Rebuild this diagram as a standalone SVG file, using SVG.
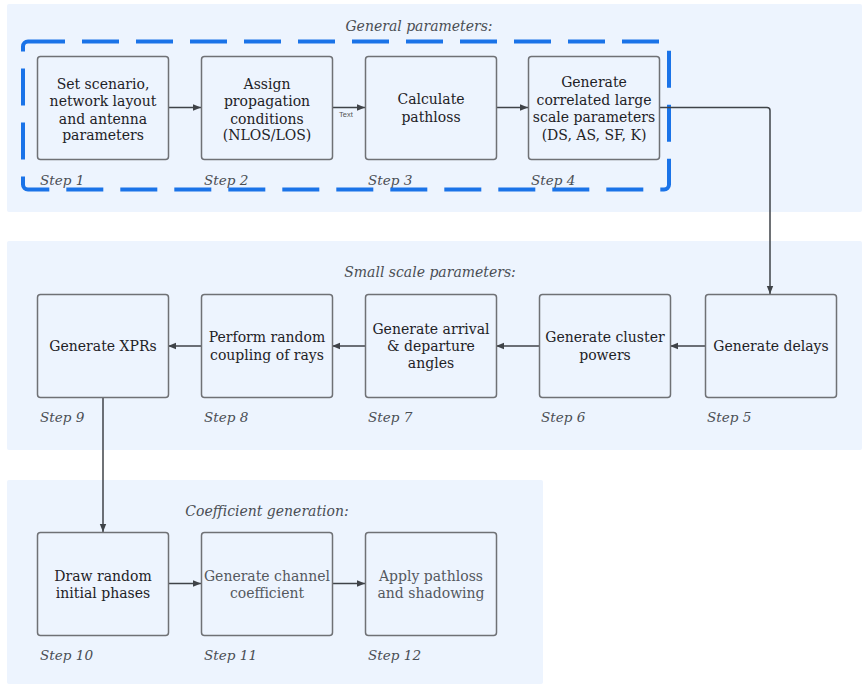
<svg xmlns="http://www.w3.org/2000/svg" width="863" height="685" viewBox="0 0 863 685">
  <defs>
    <marker id="arrow" viewBox="0 0 10 10" refX="10" refY="5" markerWidth="8" markerHeight="8" markerUnits="userSpaceOnUse" orient="auto">
      <path d="M0,1 L10,5 L0,9 Z" fill="#3f4348"/>
    </marker>
    <style>
      .panel { fill: #edf4fe; }
      .box { fill: #edf4fe; stroke: #6f7175; stroke-width: 1.5; }
      .lbl { font-family: "DejaVu Serif", "Liberation Serif", serif; font-size: 14px; fill: #1e2226; text-anchor: middle; }
      .lbl.dim { fill: #55595e; }
      .step { font-family: "DejaVu Serif", "Liberation Serif", serif; font-style: italic; font-size: 13.6px; fill: #4a4e54; }
      .title { font-family: "DejaVu Serif", "Liberation Serif", serif; font-style: italic; font-size: 14px; fill: #4a4e54; text-anchor: middle; }
      .conn { fill: none; stroke: #3f4348; stroke-width: 1.5; marker-end: url(#arrow); }
      .tag { font-family: "Liberation Sans", Arial, sans-serif; font-size: 7.5px; fill: #555; }
    </style>
  </defs>

  <!-- section backgrounds -->
  <g id="section-general">
    <rect class="panel" x="7" y="4" width="855" height="208" rx="2"/>
    <text class="title" x="419" y="31">General parameters:</text>
    <rect x="23" y="41.5" width="646" height="148" rx="5" fill="none" stroke="#1a73e8" stroke-width="4" stroke-dasharray="37 17"/>
  </g>
  <g id="section-small-scale">
    <rect class="panel" x="7" y="241" width="855" height="209" rx="2"/>
    <text class="title" x="430" y="277">Small scale parameters:</text>
  </g>
  <g id="section-coefficient">
    <rect class="panel" x="7" y="480" width="536" height="204" rx="2"/>
    <text class="title" x="267" y="516">Coefficient generation:</text>
  </g>

  <!-- connectors -->
  <g id="connectors">
    <line class="conn" x1="168" y1="107.5" x2="201" y2="107.5"/>
    <line class="conn" x1="332" y1="107.5" x2="365" y2="107.5"/>
    <text class="tag" x="339" y="117">Text</text>
    <line class="conn" x1="496" y1="107.5" x2="528" y2="107.5"/>
    <path class="conn" d="M660,107.5 H767 Q770,107.5 770,110.5 V294"/>
    <line class="conn" x1="705" y1="346" x2="670" y2="346"/>
    <line class="conn" x1="539" y1="346" x2="496" y2="346"/>
    <line class="conn" x1="365" y1="346" x2="332" y2="346"/>
    <line class="conn" x1="201" y1="346" x2="168" y2="346"/>
    <line class="conn" x1="103" y1="397" x2="103" y2="532"/>
    <line class="conn" x1="168" y1="583.5" x2="201" y2="583.5"/>
    <line class="conn" x1="332" y1="583.5" x2="365" y2="583.5"/>
  </g>

  <!-- steps 1-4 -->
  <g id="step1">
    <rect class="box" x="37.5" y="56.5" width="131" height="103" rx="3"/>
    <text class="lbl" x="103" y="89">Set scenario,</text>
    <text class="lbl" x="103" y="106">network layout</text>
    <text class="lbl" x="103" y="123.5">and antenna</text>
    <text class="lbl" x="103" y="140">parameters</text>
    <text class="step" x="40" y="185">Step 1</text>
  </g>
  <g id="step2">
    <rect class="box" x="201.5" y="56.5" width="131" height="103" rx="3"/>
    <text class="lbl" x="267" y="89">Assign</text>
    <text class="lbl" x="267" y="106">propagation</text>
    <text class="lbl" x="267" y="123.5">conditions</text>
    <text class="lbl" x="267" y="140">(NLOS/LOS)</text>
    <text class="step" x="204" y="185">Step 2</text>
  </g>
  <g id="step3">
    <rect class="box" x="365.5" y="56.5" width="131" height="103" rx="3"/>
    <text class="lbl" x="431" y="104">Calculate</text>
    <text class="lbl" x="431" y="121.5">pathloss</text>
    <text class="step" x="368" y="185">Step 3</text>
  </g>
  <g id="step4">
    <rect class="box" x="528.5" y="56.5" width="131" height="103" rx="3"/>
    <text class="lbl" x="594" y="87">Generate</text>
    <text class="lbl" x="594" y="104.5">correlated large</text>
    <text class="lbl" x="594" y="122">scale parameters</text>
    <text class="lbl" x="594" y="140">(DS, AS, SF, K)</text>
    <text class="step" x="531" y="185">Step 4</text>
  </g>

  <!-- steps 5-9 -->
  <g id="step5">
    <rect class="box" x="705.5" y="294.5" width="131" height="103" rx="3"/>
    <text class="lbl" x="771" y="351">Generate delays</text>
    <text class="step" x="707" y="422">Step 5</text>
  </g>
  <g id="step6">
    <rect class="box" x="539.5" y="294.5" width="131" height="103" rx="3"/>
    <text class="lbl" x="605" y="342">Generate cluster</text>
    <text class="lbl" x="605" y="360">powers</text>
    <text class="step" x="541" y="422">Step 6</text>
  </g>
  <g id="step7">
    <rect class="box" x="365.5" y="294.5" width="131" height="103" rx="3"/>
    <text class="lbl" x="431" y="334">Generate arrival</text>
    <text class="lbl" x="431" y="351">&amp; departure</text>
    <text class="lbl" x="431" y="368">angles</text>
    <text class="step" x="368" y="422">Step 7</text>
  </g>
  <g id="step8">
    <rect class="box" x="201.5" y="294.5" width="131" height="103" rx="3"/>
    <text class="lbl" x="267" y="342">Perform random</text>
    <text class="lbl" x="267" y="360">coupling of rays</text>
    <text class="step" x="204" y="422">Step 8</text>
  </g>
  <g id="step9">
    <rect class="box" x="37.5" y="294.5" width="131" height="103" rx="3"/>
    <text class="lbl" x="103" y="351">Generate XPRs</text>
    <text class="step" x="40" y="422">Step 9</text>
  </g>

  <!-- steps 10-12 -->
  <g id="step10">
    <rect class="box" x="37.5" y="532.5" width="131" height="103" rx="3"/>
    <text class="lbl" x="103" y="581">Draw random</text>
    <text class="lbl" x="103" y="598">initial phases</text>
    <text class="step" x="40" y="660">Step 10</text>
  </g>
  <g id="step11">
    <rect class="box" x="201.5" y="532.5" width="131" height="103" rx="3"/>
    <text class="lbl dim" x="267" y="581">Generate channel</text>
    <text class="lbl dim" x="267" y="598">coefficient</text>
    <text class="step" x="204" y="660">Step 11</text>
  </g>
  <g id="step12">
    <rect class="box" x="365.5" y="532.5" width="131" height="103" rx="3"/>
    <text class="lbl dim" x="431" y="581">Apply pathloss</text>
    <text class="lbl dim" x="431" y="598">and shadowing</text>
    <text class="step" x="368" y="660">Step 12</text>
  </g>
</svg>
